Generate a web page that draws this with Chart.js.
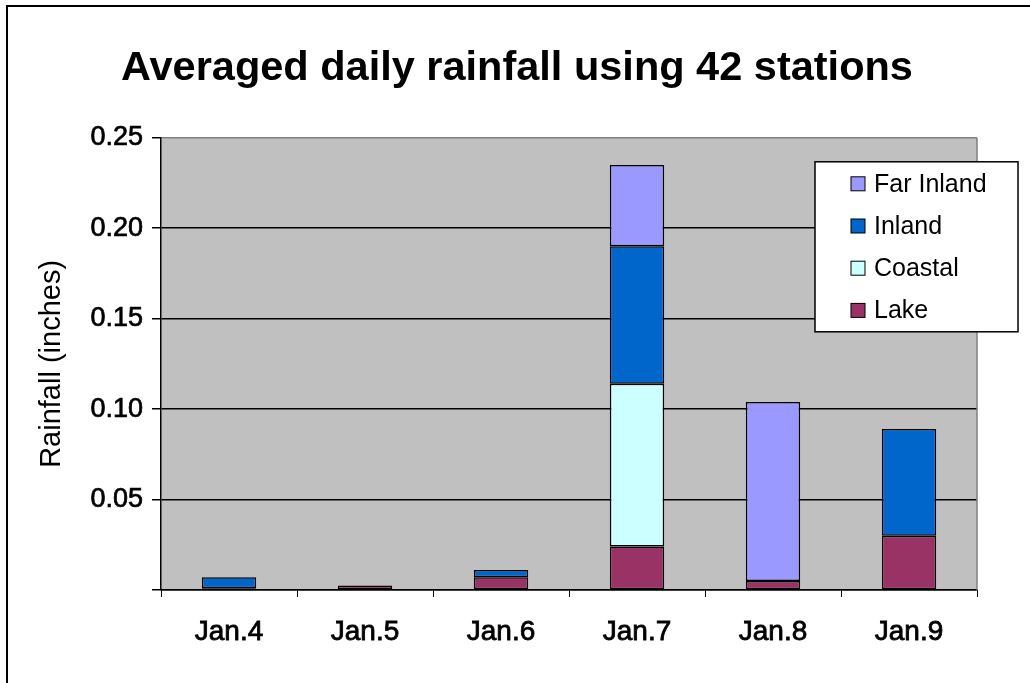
<!DOCTYPE html>
<html>
<head>
<meta charset="utf-8">
<title>Averaged daily rainfall</title>
<script src="https://cdn.jsdelivr.net/npm/chart.js@4/dist/chart.umd.min.js"></script>
<style>
  html, body { margin: 0; padding: 0; background: #fff; overflow: hidden; }
  #rahmen {
    position: absolute; left: 6px; top: 5px; width: 1040px; height: 700px;
    border-left: 2px solid #000; border-top: 2px solid #000;
  }
  #diagramm { position: absolute; left: 0; top: 0; }
</style>
</head>
<body>
<div id="rahmen"></div>
<canvas id="diagramm" width="1030" height="683"></canvas>
<script>
// categories and stacked series (inches), bottom segment first
const days = ["Jan.4", "Jan.5", "Jan.6", "Jan.7", "Jan.8", "Jan.9"];
const lake = [0.001, 0.0025, 0.007, 0.024, 0.005, 0.030];
const coastal = [null, null, null, 0.090, null, null];
const inland = [0.006, null, 0.004, 0.076, null, 0.059];
const farInland = [null, null, null, 0.045, 0.099, null];

const seriesNames = ["Lake", "Coastal", "Inland", "Far Inland"];
const seriesColors = ["#993366", "#CCFFFF", "#0066CC", "#9999FF"];

const schrift = "'Liberation Sans', Arial, sans-serif";

// grey plot background and its grey right edge
const plotHintergrund = {
  id: "plotHintergrund",
  beforeDraw(chart) {
    const a = chart.chartArea;
    const ctx = chart.ctx;
    ctx.save();
    ctx.fillStyle = "#C0C0C0";
    ctx.fillRect(a.left, a.top, a.right - a.left, a.bottom - a.top);
    ctx.restore();
  },
  afterDraw(chart) {
    const a = chart.chartArea;
    const ctx = chart.ctx;
    ctx.save();
    ctx.strokeStyle = "#808080";
    ctx.lineWidth = 1.5;
    ctx.beginPath();
    ctx.moveTo(a.right, a.top);
    ctx.lineTo(a.right, a.bottom);
    ctx.stroke();
    ctx.restore();
  }
};

// legend box sitting in the upper right corner of the plot
const legendeBox = {
  id: "legendeBox",
  afterDraw(chart) {
    const a = chart.chartArea;
    const ctx = chart.ctx;
    const x = a.right - 162;
    const y = a.top + 24;
    const breite = 203;
    const hoehe = 170;
    ctx.save();
    ctx.fillStyle = "#fff";
    ctx.fillRect(x, y, breite, hoehe);
    ctx.strokeStyle = "#000";
    ctx.lineWidth = 1.5;
    ctx.strokeRect(x, y, breite, hoehe);

    const sets = chart.data.datasets.slice().reverse();
    ctx.font = "25px " + schrift;
    ctx.textBaseline = "middle";
    ctx.textAlign = "left";
    sets.forEach(function (ds, i) {
      const cy = y + 22 + i * 42.2;
      ctx.fillStyle = ds.backgroundColor;
      ctx.fillRect(x + 36, cy - 7, 14, 14);
      ctx.strokeStyle = "#000";
      ctx.lineWidth = 1;
      ctx.strokeRect(x + 36, cy - 7, 14, 14);
      ctx.fillStyle = "#000";
      ctx.fillText(ds.label, x + 59, cy + 1);
    });
    ctx.restore();
  }
};

const reihen = [lake, coastal, inland, farInland];

const canvas = document.getElementById("diagramm").getContext("2d");
window.chartRegen = new Chart(canvas, {
  type: "bar",
  data: {
    labels: days,
    datasets: reihen.map(function (werte, i) {
      return {
        label: seriesNames[i],
        data: werte,
        backgroundColor: seriesColors[i],
        borderColor: "#000",
        borderWidth: 1.5,
        borderSkipped: false,
        barPercentage: 0.4,
        categoryPercentage: 1.0
      };
    })
  },
  options: {
    responsive: false,
    animation: false,
    layout: {
      padding: { left: 4, right: 0, top: 0, bottom: 0 }
    },
    plugins: {
      legend: { display: false },
      tooltip: { enabled: false },
      title: {
        display: true,
        text: "Averaged daily rainfall using 42 stations",
        color: "#000",
        font: { family: schrift, size: 41.5, weight: "bold" },
        padding: { top: 44, bottom: 44 }
      }
    },
    scales: {
      x: {
        stacked: true,
        grid: {
          offset: true,
          drawOnChartArea: false,
          tickLength: 7,
          color: "#000"
        },
        border: { color: "#000", width: 1.5 },
        ticks: {
          color: "#000",
          font: { family: schrift, size: 28 },
          textStrokeColor: "#000",
          textStrokeWidth: 0.8,
          padding: 18,
          maxRotation: 0
        },
        afterFit: function (s) { s.height = 93; }
      },
      y: {
        stacked: true,
        min: 0,
        max: 0.25,
        ticks: {
          stepSize: 0.05,
          color: "#000",
          font: { family: schrift, size: 27 },
          textStrokeColor: "#000",
          textStrokeWidth: 0.7,
          padding: 9,
          callback: function (v) { return v === 0 ? "" : v.toFixed(2); }
        },
        grid: {
          color: function (c) { return c.tick && c.tick.value >= 0.25 ? "#808080" : "#000"; },
          lineWidth: 1.5,
          tickColor: "#000",
          tickLength: 9
        },
        border: { color: "#000", width: 1.5 },
        title: {
          display: true,
          text: "Rainfall (inches)",
          color: "#000",
          font: { family: schrift, size: 29 },
          padding: { top: 31, bottom: 0 }
        },
        afterFit: function (s) { s.width = 157; }
      },
      // empty strip on the right so the plot ends short of the canvas edge
      rand: {
        position: "right",
        display: true,
        ticks: { display: false },
        grid: { display: false },
        border: { display: false },
        afterFit: function (s) { s.width = 53; }
      }
    }
  },
  plugins: [plotHintergrund, legendeBox]
});
</script>
</body>
</html>
